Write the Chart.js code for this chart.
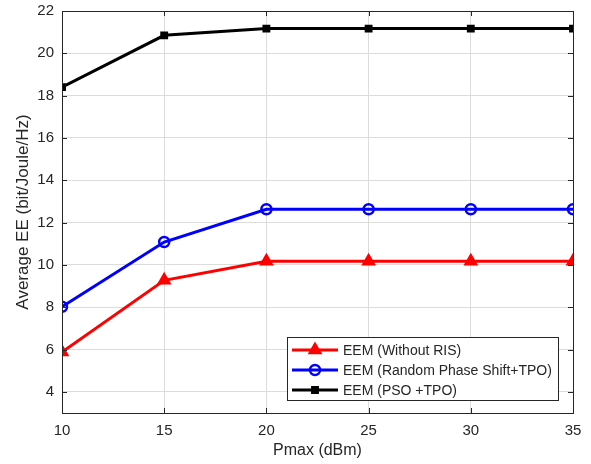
<!DOCTYPE html>
<html>
<head>
<meta charset="utf-8">
<script src="https://cdn.jsdelivr.net/npm/chart.js@4/dist/chart.umd.min.js"></script>
<style>
  html, body { margin: 0; padding: 0; background: #fff; }
  #wrap { width: 591px; height: 464px; position: relative; }
</style>
</head>
<body>
<div id="wrap"><canvas id="ee-chart" width="591" height="464"></canvas></div>
<script>
// Average EE vs Pmax, three schemes
const pmax = [10, 15, 20, 25, 30, 35];
const eeWithoutRis = [5.88, 9.27, 10.17, 10.17, 10.17, 10.17];
const eeRandomPhase = [8.02, 11.08, 12.63, 12.63, 12.63, 12.63];
const eePso = [18.4, 20.85, 21.17, 21.17, 21.17, 21.17];
const seriesNames = ['EEM (Without RIS)', 'EEM (Random Phase Shift+TPO)', 'EEM (PSO +TPO)'];
const xTicks = [10, 15, 20, 25, 30, 35];
const yTicks = [4, 6, 8, 10, 12, 14, 16, 18, 20, 22];

const FONT = '"Liberation Sans", Arial, Helvetica, sans-serif';
const TEXT = '#262626';

function toPoints(ys) {
    return pmax.map((x, i) => ({ x: x, y: ys[i] }));
}

// box around the plot area, inner tick marks, and legend in the lower right
const boxPlugin = {
    id: 'matlabBox',
    afterDatasetsDraw(chart) {
        const { ctx, chartArea: a, scales } = chart;
        ctx.save();
        ctx.strokeStyle = '#262626';
        ctx.lineWidth = 1;
        ctx.beginPath();
        xTicks.forEach(v => {
            const px = Math.round(scales.x.getPixelForValue(v)) + 0.5;
            ctx.moveTo(px, a.bottom); ctx.lineTo(px, a.bottom - 5);
            ctx.moveTo(px, a.top); ctx.lineTo(px, a.top + 5);
        });
        yTicks.forEach(v => {
            const py = Math.round(scales.y.getPixelForValue(v)) + 0.5;
            ctx.moveTo(a.left, py); ctx.lineTo(a.left + 5, py);
            ctx.moveTo(a.right, py); ctx.lineTo(a.right - 5, py);
        });
        ctx.stroke();
        ctx.strokeRect(Math.round(a.left) + 0.5, Math.round(a.top) + 0.5,
            Math.round(a.right - a.left), Math.round(a.bottom - a.top));

        // legend
        const lx = 287, ly = 337, lw = 271, lh = 63;
        ctx.fillStyle = '#fff';
        ctx.fillRect(lx, ly, lw, lh);
        ctx.strokeStyle = '#262626';
        ctx.lineWidth = 1;
        ctx.strokeRect(lx + 0.5, ly + 0.5, lw, lh);
        ctx.textBaseline = 'middle';
        chart.data.datasets.forEach((ds, i) => {
            const y = ly + 13 + i * 20;
            ctx.strokeStyle = ds.borderColor;
            ctx.lineWidth = 3;
            ctx.beginPath();
            ctx.moveTo(lx + 5, y); ctx.lineTo(lx + 51, y);
            ctx.stroke();
            ctx.fillStyle = ds.pointBackgroundColor;
            ctx.strokeStyle = ds.pointBorderColor;
            ctx.lineWidth = ds.pointBorderWidth;
            Chart.helpers.drawPoint(ctx, {
                pointStyle: ds.pointStyle,
                radius: ds.pointRadius,
                borderWidth: ds.pointBorderWidth,
                rotation: 0
            }, lx + 28, y);
            ctx.font = '14px ' + FONT;
            ctx.fillStyle = TEXT;
            ctx.fillText(ds.label, lx + 56, y + 1);
        });
        ctx.restore();
    }
};

new Chart(document.getElementById('ee-chart'), {
    type: 'line',
    data: {
        datasets: [{
            label: seriesNames[0],
            data: toPoints(eeWithoutRis),
            borderColor: '#ff0000',
            backgroundColor: '#ff0000',
            pointBackgroundColor: '#ff0000',
            pointBorderColor: '#ff0000',
            pointStyle: 'triangle',
            pointRadius: 6.5,
            pointBorderWidth: 2,
            borderWidth: 3
        }, {
            label: seriesNames[1],
            data: toPoints(eeRandomPhase),
            borderColor: '#0000ff',
            backgroundColor: 'rgba(0,0,0,0)',
            pointBackgroundColor: 'rgba(0,0,0,0)',
            pointBorderColor: '#0000ff',
            pointStyle: 'circle',
            pointRadius: 5,
            pointBorderWidth: 2.5,
            borderWidth: 3
        }, {
            label: seriesNames[2],
            data: toPoints(eePso),
            borderColor: '#000000',
            backgroundColor: '#000000',
            pointBackgroundColor: '#000000',
            pointBorderColor: '#000000',
            pointStyle: 'rect',
            pointRadius: 4.5,
            pointBorderWidth: 1.5,
            borderWidth: 3
        }]
    },
    options: {
        responsive: false,
        animation: false,
        layout: { padding: { top: 0, right: 18, left: 0, bottom: 0 } },
        plugins: {
            legend: { display: false },
            tooltip: { enabled: false }
        },
        scales: {
            x: {
                type: 'linear',
                min: 10,
                max: 35,
                afterBuildTicks: axis => { axis.ticks = xTicks.map(v => ({ value: v })); },
                afterFit: axis => { axis.height = 51; },
                grid: { color: '#dcdcdc', drawTicks: false },
                border: { display: false },
                ticks: { color: TEXT, font: { family: FONT, size: 15 }, padding: 9 },
                title: { display: true, text: 'Pmax (dBm)', color: TEXT, font: { family: FONT, size: 16 }, padding: { top: 1 } }
            },
            y: {
                type: 'linear',
                min: 3,
                max: 22,
                afterBuildTicks: axis => { axis.ticks = yTicks.map(v => ({ value: v })); },
                afterFit: axis => { axis.width = 62; axis.paddingTop = 11; axis.paddingBottom = 0; },
                grid: { color: '#dcdcdc', drawTicks: false },
                border: { display: false },
                ticks: { color: TEXT, font: { family: FONT, size: 15 }, padding: 8 },
                title: { display: true, text: 'Average EE (bit/Joule/Hz)', color: TEXT, font: { family: FONT, size: 17 }, padding: { top: 13, bottom: 0 } }
            }
        }
    },
    plugins: [boxPlugin]
});
</script>
</body>
</html>
